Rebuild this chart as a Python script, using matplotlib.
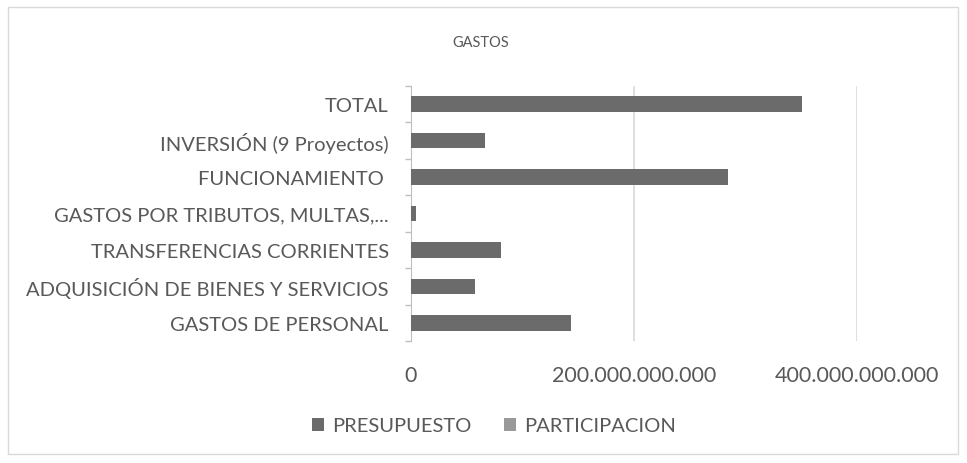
import matplotlib
matplotlib.use("Agg")
from matplotlib import pyplot as plt
from matplotlib.patches import Rectangle
from matplotlib.ticker import FuncFormatter, FixedLocator
import numpy as np

plt.rcParams["font.family"] = ["Lato", "DejaVu Sans"]

categories = [
    "GASTOS DE PERSONAL",
    "ADQUISICIÓN DE BIENES Y SERVICIOS",
    "TRANSFERENCIAS CORRIENTES",
    "GASTOS POR TRIBUTOS, MULTAS,...",
    "FUNCIONAMIENTO ",
    "INVERSIÓN (9 Proyectos)",
    "TOTAL",
]
presupuesto = [143.8e9, 57.7e9, 80.4e9, 4.5e9, 284.4e9, 66.4e9, 350.8e9]
participacion = [0.41, 0.16, 0.23, 0.01, 0.81, 0.19, 1.0]

text_c = "#595959"
fig = plt.figure(figsize=(9.67, 4.64), dpi=100)
fig.patches.append(Rectangle((8 / 967, 1 - 455 / 464), 950 / 967, 447 / 464,
                             transform=fig.transFigure, fill=False,
                             edgecolor="#d9d9d9", linewidth=1))
ax = fig.add_axes([411 / 967, 1 - 342 / 464, 446 / 967, 255 / 464])

y = np.arange(len(categories))
ax.barh(y, presupuesto, height=0.43, color="#6b6b6b", label="PRESUPUESTO", zorder=3)
ax.barh(y + 0.2, participacion, height=0.2, color="#999999", label="PARTICIPACION", zorder=3)

ax.set_xlim(0, 400e9)
ax.set_ylim(-0.5, len(categories) - 0.5)
ax.set_xticks([0, 200e9, 400e9])
ax.xaxis.set_major_formatter(FuncFormatter(lambda v, p: f"{v:,.0f}".replace(",", ".")))
ax.grid(axis="x", color="#d9d9d9", linewidth=1.2, zorder=0)
ax.set_yticks(y)
ax.set_yticklabels(categories)
ax.yaxis.set_minor_locator(FixedLocator(np.arange(-0.5, len(categories), 1.0)))
ax.tick_params(axis="y", which="major", length=0, pad=16, labelsize=14.5, labelcolor=text_c)
ax.tick_params(axis="y", which="minor", length=4, color="#bfbfbf", width=1)
ax.tick_params(axis="x", length=0, pad=17, labelsize=15.5, labelcolor=text_c)
for s in ["top", "right", "bottom"]:
    ax.spines[s].set_visible(False)
ax.spines["left"].set_color("#bfbfbf")

fig.text(481 / 967, 1 - 43 / 464, "GASTOS", ha="center", va="center", fontsize=10.5, color=text_c)
fig.legend(loc="center", bbox_to_anchor=(494 / 967, 1 - 427 / 464), ncol=2, frameon=False,
           fontsize=14.5, labelcolor=text_c, handlelength=0.6, handleheight=0.6,
           handletextpad=0.4, columnspacing=1.6)

fig.savefig("out.png", dpi=100)
